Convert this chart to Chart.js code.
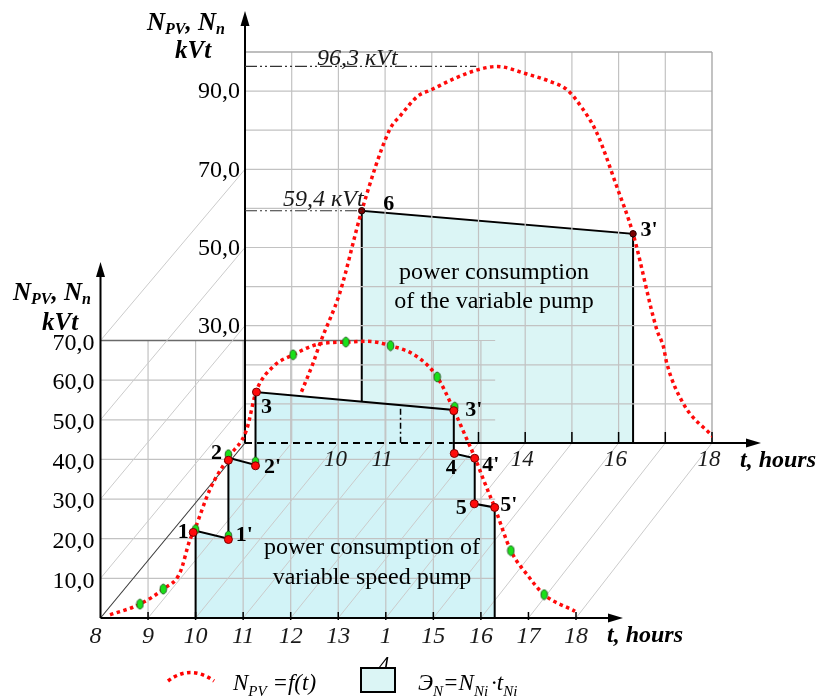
<!DOCTYPE html>
<html>
<head>
<meta charset="utf-8">
<script src="https://cdn.jsdelivr.net/npm/chart.js@4/dist/chart.umd.min.js"></script>
<style>
html,body{margin:0;padding:0;background:#ffffff;}
#c{display:block;}
</style>
</head>
<body>
<canvas id="c" width="821" height="698"></canvas>
<script>
// ================= DATA =================
// Back panel: PV generation curve N_PV = f(t), hours / kVt
const backCurveT = [9.21, 9.46, 9.61, 10.03, 10.5, 11.1, 11.32, 11.7, 12.0, 12.5, 13.0, 13.4, 14.0, 14.5, 14.89, 15.2, 15.53, 15.96, 16.31, 16.82, 16.96, 17.03, 17.38, 18.02];
const backCurveN = [13.1, 20.5, 25.6, 38.4, 59.4, 80.2, 83.6, 88.7, 90.4, 93.3, 95.5, 96.3, 94.5, 92.6, 90.4, 86.0, 79.4, 65.6, 53.5, 28.9, 24.6, 20.5, 10.2, 1.6];
// Back panel: variable pump consumption (6 -> 3')
const backPumpT = [10.5, 10.5, 16.31, 16.31];
const backPumpN = [0, 59.4, 53.5, 0];
const backPointNames = ['6', "3'"];
const backPointT = [10.5, 16.31];
const backPointN = [59.4, 53.5];
const backPeakN = 96.3;
const backPeakT = 13.4;

// Front panel: PV curve
const frontCurveT = [8.2, 8.83, 9.32, 9.67, 9.88, 9.97, 10.3, 10.69, 11.07, 11.27, 11.63, 12.05, 12.62, 13.16, 13.6, 14.1, 14.65, 15.08, 15.43, 15.66, 15.88, 16.05, 16.29, 16.63, 17.0, 17.33, 17.98];
const frontCurveN = [0.8, 3.5, 7.3, 11.4, 19.7, 22.0, 32.4, 40.5, 47.4, 57.0, 63.4, 66.4, 69.2, 69.6, 69.8, 68.7, 66.0, 60.8, 52.5, 46.3, 40.3, 35.0, 27.9, 17.0, 10.5, 5.9, 1.7];
// Front panel: variable speed pump step consumption
const frontPumpT = [10.0, 10.0, 10.69, 10.69, 11.26, 11.26, 15.43, 15.43, 15.87, 15.87, 16.29, 16.29];
const frontPumpN = [0, 22.0, 20.0, 40.4, 38.6, 57.0, 52.5, 41.5, 40.3, 28.8, 27.9, 0];
// named switching points
const pointNames = ['1', "1'", '2', "2'", '3', "3'", '4', "4'", '5', "5'"];
const redT = [9.95, 10.69, 10.69, 11.26, 11.28, 15.43, 15.44, 15.87, 15.86, 16.29];
const redN = [21.6, 19.8, 39.8, 38.4, 57.0, 52.3, 41.5, 40.3, 28.8, 27.9];
// green markers on the PV curve
const greenT = [8.83, 9.32, 12.05, 13.16, 14.1, 15.08, 16.63, 17.33, 10.0, 10.69, 10.69, 11.26, 15.45];
const greenN = [3.5, 7.3, 66.4, 69.6, 68.7, 60.8, 17.0, 5.9, 22.3, 20.7, 41.2, 39.4, 53.2];

// Tick labels
const frontXTicks = [8, 9, 10, 11, 12, 13, 14, 15, 16, 17, 18];
const frontXText = ['8', '9', '10', '11', '12', '13', '1', '15', '16', '17', '18'];
const backXTicks = [10, 11, 14, 16, 18];
const backXText = ['10', '11', '14', '16', '18'];
const frontYTicks = [10, 20, 30, 40, 50, 60, 70];
const backYTicks = [30, 50, 70, 90];

// ================= LAYOUT =================
const AREA = {left: 100, top: 52, right: 712, bottom: 618};
const FRONT = {x8: 100.5, pxH: 47.55, pxV: 3.964};
const BACK = {x8: 245, y0: 443, pxH: 46.7, pxV: 3.91};
const SERIF = "'Liberation Serif', 'DejaVu Serif', serif";
const font = (st, sz) => (st ? st + ' ' : '') + sz + 'px ' + SERIF;
const GRID = '#c2c2c2', DIAG = '#cbcbcb';
const BACK_CYAN = '#dbf5f5', FRONT_CYAN = '#d2f3f7';

const zip = (T, N) => T.map((t, i) => ({x: t, y: N[i]}));

function greenImg() {
  const c = document.createElement('canvas');
  c.width = 9; c.height = 12;
  const g = c.getContext('2d');
  g.beginPath(); g.ellipse(4.5, 6, 3.3, 4.9, 0, 0, Math.PI * 2);
  g.fillStyle = '#19e019'; g.fill();
  g.lineWidth = 0.9; g.strokeStyle = '#265026'; g.stroke();
  return c;
}

function seg(ctx, a, b, color, w, dash) {
  ctx.save(); ctx.beginPath();
  ctx.strokeStyle = color; ctx.lineWidth = w; ctx.setLineDash(dash || []);
  ctx.moveTo(a[0], a[1]); ctx.lineTo(b[0], b[1]); ctx.stroke(); ctx.restore();
}
function arrowUp(ctx, x, y) {
  ctx.save(); ctx.fillStyle = '#000'; ctx.beginPath();
  ctx.moveTo(x, y); ctx.lineTo(x - 4.5, y + 15); ctx.lineTo(x + 4.5, y + 15); ctx.closePath(); ctx.fill(); ctx.restore();
}
function arrowRight(ctx, x, y) {
  ctx.save(); ctx.fillStyle = '#000'; ctx.beginPath();
  ctx.moveTo(x, y); ctx.lineTo(x - 15, y - 4.5); ctx.lineTo(x - 15, y + 4.5); ctx.closePath(); ctx.fill(); ctx.restore();
}
function runs(ctx, x, y, parts) {
  let cx = x;
  ctx.textAlign = 'left'; ctx.textBaseline = 'alphabetic';
  for (const p of parts) {
    ctx.font = p[1];
    ctx.fillText(p[0], cx, y + (p[2] || 0));
    cx += ctx.measureText(p[0]).width + (p[3] || 0);
  }
}

function drawGrid(chart) {
  const ctx = chart.ctx, s = chart.scales;
  const F = (t, n) => [s.xF.getPixelForValue(t), s.yF.getPixelForValue(n)];
  const B = (t, n) => [s.xB.getPixelForValue(t), s.yB.getPixelForValue(n)];
  // back grid
  for (let h = 9; h <= 17; h++) seg(ctx, B(h, 0), B(h, 100), GRID, 1.2);
  for (let v = 10; v <= 90; v += 10) seg(ctx, B(8, v), B(18, v), GRID, 1.2);
  seg(ctx, B(8, 100), B(18, 100), '#a9a9a9', 1.4);
  seg(ctx, B(18, 0), B(18, 100), '#a9a9a9', 1.4);
  // front grid
  for (let h = 9; h <= 16; h++) seg(ctx, F(h, 0), F(h, 70), GRID, 1.2);
  for (let v = 10; v <= 60; v += 10) seg(ctx, F(8, v), F(16.3, v), GRID, 1.2);
  seg(ctx, F(13.5, 70), F(16.3, 70), GRID, 1.2);
  seg(ctx, F(8, 70), F(13.5, 70), '#6a6a6a', 1.6);
  // depth (oblique) lines
  for (let h = 9; h <= 18; h++) seg(ctx, F(h, 0), B(h, 0), DIAG, 1);
  for (const v of [10, 30, 50, 70]) seg(ctx, F(8, v), B(8, v), DIAG, 1);
  seg(ctx, F(8, 0), B(8, 0), '#3a3a3a', 1.1);
  // hidden edges
  seg(ctx, B(8, 0), B(12.45, 0), '#000', 2, [7, 5]);
  seg(ctx, F(14.31, 44.2), F(14.31, 53.7), '#000', 1.5, [6, 3, 2, 3]);
  // axes
  const [bx0, by0] = B(8, 0);
  seg(ctx, [bx0, by0], [bx0, 22], '#000', 2); arrowUp(ctx, bx0, 11);
  seg(ctx, B(12.45, 0), [750, by0], '#000', 2); arrowRight(ctx, 761, by0);
  const [fx0, fy0] = F(8, 0);
  seg(ctx, [fx0, fy0], [fx0, 272], '#000', 2); arrowUp(ctx, fx0, 262);
  seg(ctx, [fx0, fy0], [612, fy0], '#000', 2); arrowRight(ctx, 623, fy0);
  for (let h = 9; h <= 18; h++) { const x = F(h, 0)[0]; seg(ctx, [x, fy0 - 6], [x, fy0 + 2], '#000', 1.5); }
  for (let h = 13; h <= 18; h++) { const x = B(h, 0)[0]; seg(ctx, [x, by0 - 11], [x, by0], '#000', 1.5); }
}

const LABEL_OFF = {
  '1': [-10, 0], "1'": [16, -4], '2': [-12, -7], "2'": [17, 2], '3': [10, 15],
  "3'": [20, 0], '4': [-3, 15], "4'": [16, 7], '5': [-13, 4], "5'": [14, -2]
};
const BACK_LABEL_OFF = {'6': [27, -6], "3'": [16, -4]};

function drawText(chart) {
  const ctx = chart.ctx, s = chart.scales;
  const F = (t, n) => [s.xF.getPixelForValue(t), s.yF.getPixelForValue(n)];
  const B = (t, n) => [s.xB.getPixelForValue(t), s.yB.getPixelForValue(n)];
  ctx.save();
  ctx.fillStyle = '#000';
  // y tick labels
  ctx.font = font('', 24); ctx.textAlign = 'right'; ctx.textBaseline = 'middle';
  backYTicks.forEach(v => { const p = B(8, v); ctx.fillText(v + ',0', p[0] - 5, p[1] + 1); });
  frontYTicks.forEach(v => { const p = F(8, v); ctx.fillText(v + ',0', p[0] - 6, p[1] + 3); });
  // x tick labels
  ctx.textAlign = 'center';
  ctx.font = font('italic', 24); ctx.fillStyle = '#1a1a1a';
  frontXTicks.forEach((h, i) => { const p = F(h, 0); ctx.fillText(frontXText[i], p[0] - (i === 0 ? 5 : 0), p[1] + 19); });
  ctx.font = font('italic', 23);
  backXTicks.forEach((h, i) => { const p = B(h, 0); ctx.fillText(backXText[i], p[0] - 3, p[1] + 17); });
  ctx.fillStyle = '#000';
  // axis names
  ctx.font = font('bold italic', 24); ctx.textAlign = 'left';
  ctx.fillText('t, hours', 740, B(8, 0)[1] + 18);
  ctx.fillText('t, hours', 607, F(8, 0)[1] + 18);
  const bi = font('bold italic', 25), bis = font('bold italic', 16);
  runs(ctx, 147, 30, [['N', bi], ['PV', bis, 4], [', ', bi], ['N', bi], ['n', bis, 4]]);
  runs(ctx, 175, 58, [['kVt', bi]]);
  runs(ctx, 13, 300, [['N', bi], ['PV', bis, 4], [', ', bi], ['N', bi], ['n', bis, 4]]);
  runs(ctx, 42, 330, [['kVt', bi]]);
  // annotations
  const pk = B(8, backPeakN);
  seg(ctx, pk, B(backPeakT - 0.45, backPeakN), '#333', 1.2, [12, 3, 2, 3, 2, 3]);
  const sx = B(8, backPointN[0]);
  seg(ctx, sx, B(backPointT[0], backPointN[0]), '#333', 1.2, [12, 3, 2, 3, 2, 3]);
  ctx.font = font('italic', 24); ctx.fillStyle = '#1a1a1a'; ctx.textAlign = 'left'; ctx.textBaseline = 'alphabetic';
  ctx.fillText('96,3 \u043aVt', 317, pk[1] - 1);
  ctx.fillText('59,4 \u043aVt', 283, sx[1] - 5);
  ctx.fillStyle = '#000';
  // point labels
  ctx.font = font('bold', 22); ctx.textAlign = 'center'; ctx.textBaseline = 'middle';
  pointNames.forEach((nm, i) => {
    const p = F(redT[i], redN[i]); const o = LABEL_OFF[nm];
    ctx.fillText(nm, p[0] + o[0], p[1] + o[1]);
  });
  backPointNames.forEach((nm, i) => {
    const p = B(backPointT[i], backPointN[i]); const o = BACK_LABEL_OFF[nm];
    ctx.fillText(nm, p[0] + o[0], p[1] + o[1]);
  });
  // panel texts
  ctx.font = font('', 24); ctx.textBaseline = 'alphabetic';
  ctx.fillText('power consumption', 494, 279);
  ctx.fillText('of the variable pump', 494, 308);
  ctx.fillText('power consumption of', 372, 554);
  ctx.fillText('variable speed pump', 372, 584);
  // legend
  ctx.save();
  ctx.strokeStyle = '#ff0000'; ctx.lineWidth = 3.5; ctx.setLineDash([3.5, 3.5]);
  ctx.beginPath(); ctx.moveTo(168, 681); ctx.quadraticCurveTo(190, 664, 214, 681); ctx.stroke();
  ctx.restore();
  const it = font('italic', 23), its = font('italic', 15);
  runs(ctx, 233, 690, [['N', it], ['PV', its, 6], [' =f(t)', it]]);
  ctx.font = font('italic', 21); ctx.textAlign = 'center'; ctx.textBaseline = 'alphabetic';
  ctx.fillText('4', 384, 671);
  ctx.fillStyle = BACK_CYAN; ctx.fillRect(361, 668, 34, 24);
  ctx.strokeStyle = '#000'; ctx.lineWidth = 2; ctx.strokeRect(361, 668, 34, 24);
  ctx.fillStyle = '#000';
  runs(ctx, 418, 690, [['\u042d', it], ['N', its, 6], ['=N', it], ['Ni', its, 6, 3], ['\u00b7t', it], ['Ni', its, 6]]);
  ctx.restore();
}

const panelsPlugin = {
  id: 'panels',
  afterDatasetDraw(chart, args) {
    if (chart.data.datasets[args.index].label === 'frontFill') drawGrid(chart);
  },
  afterDatasetsDraw(chart) { drawText(chart); }
};

// datasets in drawing order (first = bottom)
const RED = '#ff0a0a';
const drawList = [
  {type: 'line', label: 'backFill', data: zip(backPumpT, backPumpN), xAxisID: 'xB', yAxisID: 'yB',
   fill: 'origin', backgroundColor: BACK_CYAN, borderWidth: 0, borderColor: 'rgba(0,0,0,0)', pointRadius: 0, tension: 0},
  {type: 'line', label: 'backOutline', data: zip(backPumpT, backPumpN), xAxisID: 'xB', yAxisID: 'yB',
   fill: false, borderColor: '#000', borderWidth: 2, pointRadius: 0, tension: 0},
  {type: 'line', label: 'frontFill', data: zip(frontPumpT, frontPumpN), xAxisID: 'xF', yAxisID: 'yF',
   fill: 'origin', backgroundColor: FRONT_CYAN, borderWidth: 0, borderColor: 'rgba(0,0,0,0)', pointRadius: 0, tension: 0},
  {type: 'line', label: 'backCurve', data: zip(backCurveT, backCurveN), xAxisID: 'xB', yAxisID: 'yB',
   fill: false, borderColor: RED, borderWidth: 3.5, borderDash: [3.5, 3.5], pointRadius: 0, cubicInterpolationMode: 'monotone'},
  {type: 'line', label: 'frontCurve', data: zip(frontCurveT, frontCurveN), xAxisID: 'xF', yAxisID: 'yF',
   fill: false, borderColor: RED, borderWidth: 3.5, borderDash: [3.5, 3.5], pointRadius: 0, cubicInterpolationMode: 'monotone'},
  {type: 'line', label: 'frontOutline', data: zip(frontPumpT, frontPumpN), xAxisID: 'xF', yAxisID: 'yF',
   fill: false, borderColor: '#000', borderWidth: 2, pointRadius: 0, tension: 0},
  {type: 'scatter', label: 'backPoints', data: zip(backPointT, backPointN), xAxisID: 'xB', yAxisID: 'yB',
   pointRadius: 3.2, pointBackgroundColor: '#7a0000', pointBorderColor: '#200', pointBorderWidth: 1},
  {type: 'scatter', label: 'green', data: zip(greenT, greenN), xAxisID: 'xF', yAxisID: 'yF',
   pointStyle: greenImg(), pointRadius: 5},
  {type: 'scatter', label: 'red', data: zip(redT, redN), xAxisID: 'xF', yAxisID: 'yF',
   pointRadius: 4, pointBackgroundColor: RED, pointBorderColor: '#7a0000', pointBorderWidth: 1}
];
drawList.forEach((d, i) => { d.order = drawList.length - i; });

const W = 821, H = 698;
const chart = new Chart(document.getElementById('c'), {
  type: 'scatter',
  data: {datasets: drawList},
  options: {
    responsive: false, animation: false, devicePixelRatio: 1, events: [],
    layout: {padding: {left: AREA.left, top: AREA.top, right: W - AREA.right, bottom: H - AREA.bottom}},
    plugins: {legend: {display: false}, tooltip: {enabled: false}, title: {display: false}},
    scales: {
      xF: {type: 'linear', axis: 'x', display: false,
           min: 8 - (FRONT.x8 - AREA.left) / FRONT.pxH, max: 8 + (AREA.right - FRONT.x8) / FRONT.pxH},
      yF: {type: 'linear', axis: 'y', display: false,
           min: 0, max: (AREA.bottom - AREA.top) / FRONT.pxV},
      xB: {type: 'linear', axis: 'x', display: false,
           min: 8 - (BACK.x8 - AREA.left) / BACK.pxH, max: 8 + (AREA.right - BACK.x8) / BACK.pxH},
      yB: {type: 'linear', axis: 'y', display: false,
           min: -(AREA.bottom - BACK.y0) / BACK.pxV, max: (BACK.y0 - AREA.top) / BACK.pxV}
    }
  },
  plugins: [panelsPlugin]
});
</script>
</body>
</html>
